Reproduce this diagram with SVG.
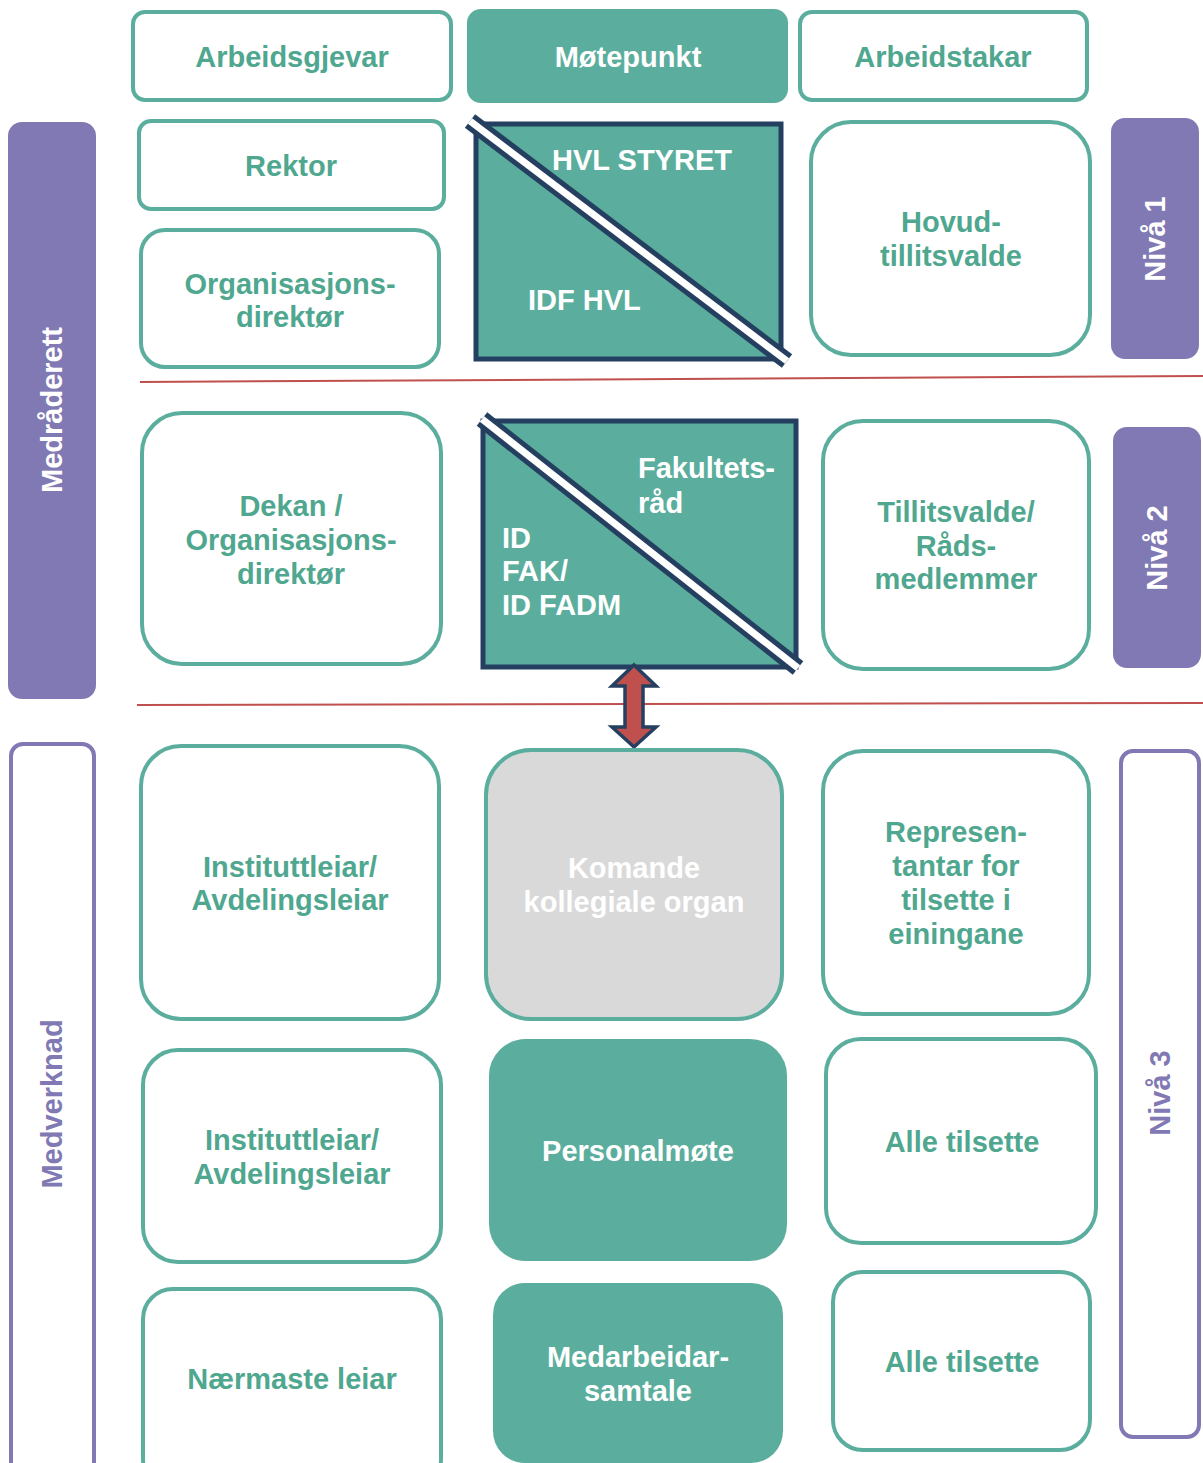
<svg xmlns="http://www.w3.org/2000/svg" width="1203" height="1463" viewBox="0 0 1203 1463">
<style>
text{font-family:"Liberation Sans",Arial,sans-serif;font-weight:bold;font-size:29px;text-anchor:middle}
.wb{fill:#fff;stroke:#5BAE9D;stroke-width:4}
.tb{fill:#5BAE9D;stroke:#5BAE9D;stroke-width:4}
.gb{fill:#D9D9D9;stroke:#5BAE9D;stroke-width:4}
.pb{fill:#8179B3}
.po{fill:#fff;stroke:#8179B3;stroke-width:4}
.tt{fill:#4FA78F}
.wt{fill:#fff}
.pt{fill:#8179B3}
.nb{fill:#5BAE9D;stroke:#243F60;stroke-width:5}
.red{stroke:#C0504D;stroke-width:2;fill:none}
.dn{stroke:#243F60;stroke-width:17}
.dw{stroke:#fff;stroke-width:7}
</style>
<g id="lines">
<line class="red" x1="140" y1="382" x2="1203" y2="376"/>
<line class="red" x1="137" y1="705" x2="1203" y2="703"/>
</g>
<g id="medraderett"><rect class="pb" x="8" y="122" width="88" height="577" rx="14"/><text class="wt" transform="translate(62,410) rotate(-90)">Medråderett</text></g>
<g id="medverknad"><rect class="po" x="11" y="744" width="83" height="740" rx="12"/><text class="pt" transform="translate(62,1104) rotate(-90)">Medverknad</text></g>
<g id="niva1"><rect class="pb" x="1111" y="118" width="88" height="241" rx="14"/><text class="wt" transform="translate(1165,239) rotate(-90)">Nivå 1</text></g>
<g id="niva2"><rect class="pb" x="1113" y="427" width="88" height="241" rx="14"/><text class="wt" transform="translate(1167,548) rotate(-90)">Nivå 2</text></g>
<g id="niva3"><rect class="po" x="1121" y="751" width="78" height="686" rx="12"/><text class="pt" transform="translate(1170,1093) rotate(-90)">Nivå 3</text></g>

<g id="arbeidsgjevar"><rect class="wb" x="133" y="12" width="318" height="88" rx="12"/><text class="tt" x="292" y="67">Arbeidsgjevar</text></g>
<g id="motepunkt"><rect class="tb" x="469" y="11" width="317" height="90" rx="12"/><text class="wt" x="628" y="67">Møtepunkt</text></g>
<g id="arbeidstakar"><rect class="wb" x="800" y="12" width="287" height="88" rx="12"/><text class="tt" x="943" y="67">Arbeidstakar</text></g>

<g id="rektor"><rect class="wb" x="139" y="121" width="305" height="88" rx="12"/><text class="tt" x="291" y="176">Rektor</text></g>
<g id="orgdir"><rect class="wb" x="141" y="230" width="298" height="137" rx="24"/><text class="tt" x="290" y="294">Organisasjons-</text><text class="tt" x="290" y="327">direktør</text></g>
<g id="hvl"><rect class="nb" x="476" y="124" width="305" height="235"/>
<line class="dn" x1="470" y1="121" x2="787" y2="361"/>
<line class="dw" x1="470" y1="121" x2="787" y2="361"/>
<text class="wt" style="text-anchor:start" x="552" y="170">HVL STYRET</text>
<text class="wt" style="text-anchor:start" x="528" y="310">IDF HVL</text></g>
<g id="hovud"><rect class="wb" x="811" y="122" width="279" height="233" rx="40"/><text class="tt" x="951" y="232">Hovud-</text><text class="tt" x="951" y="266">tillitsvalde</text></g>

<g id="dekan"><rect class="wb" x="142" y="413" width="299" height="251" rx="40"/><text class="tt" x="291" y="516">Dekan /</text><text class="tt" x="291" y="550">Organisasjons-</text><text class="tt" x="291" y="584">direktør</text></g>
<g id="fak"><rect class="nb" x="483" y="421" width="313" height="246"/>
<line class="dn" x1="482" y1="419" x2="798" y2="668"/>
<line class="dw" x1="482" y1="419" x2="798" y2="668"/>
<text class="wt" style="text-anchor:start" x="638" y="478">Fakultets-</text>
<text class="wt" style="text-anchor:start" x="638" y="513">råd</text>
<text class="wt" style="text-anchor:start" x="502" y="548">ID</text>
<text class="wt" style="text-anchor:start" x="502" y="581">FAK/</text>
<text class="wt" style="text-anchor:start" x="502" y="615">ID FADM</text></g>
<g id="tillits"><rect class="wb" x="823" y="421" width="266" height="248" rx="40"/><text class="tt" x="956" y="522">Tillitsvalde/</text><text class="tt" x="956" y="556">Råds-</text><text class="tt" x="956" y="589">medlemmer</text></g>

<g id="connectors"><polygon points="634,665 656,686 643,686 643,727 656,727 634,747 612,727 625,727 625,686 612,686" fill="#C0504D" stroke="#243F60" stroke-width="3.5" stroke-linejoin="miter"/></g>

<g id="inst1"><rect class="wb" x="141" y="746" width="298" height="273" rx="40"/><text class="tt" x="290" y="877">Instituttleiar/</text><text class="tt" x="290" y="910">Avdelingsleiar</text></g>
<g id="komande"><rect class="gb" x="486" y="750" width="296" height="269" rx="45"/><text class="wt" x="634" y="878">Komande</text><text class="wt" x="634" y="912">kollegiale organ</text></g>
<g id="repr"><rect class="wb" x="823" y="751" width="266" height="263" rx="40"/><text class="tt" x="956" y="842">Represen-</text><text class="tt" x="956" y="876">tantar for</text><text class="tt" x="956" y="910">tilsette i</text><text class="tt" x="956" y="944">einingane</text></g>

<g id="inst2"><rect class="wb" x="143" y="1050" width="298" height="212" rx="35"/><text class="tt" x="292" y="1150">Instituttleiar/</text><text class="tt" x="292" y="1184">Avdelingsleiar</text></g>
<g id="personal"><rect class="tb" x="491" y="1041" width="294" height="218" rx="35"/><text class="wt" x="638" y="1161">Personalmøte</text></g>
<g id="alle1"><rect class="wb" x="826" y="1039" width="270" height="204" rx="35"/><text class="tt" x="962" y="1152">Alle tilsette</text></g>

<g id="naermaste"><rect class="wb" x="143" y="1289" width="298" height="200" rx="30"/><text class="tt" x="292" y="1389">Nærmaste leiar</text></g>
<g id="medarb"><rect class="tb" x="495" y="1285" width="286" height="176" rx="30"/><text class="wt" x="638" y="1367">Medarbeidar-</text><text class="wt" x="638" y="1401">samtale</text></g>
<g id="alle2"><rect class="wb" x="833" y="1272" width="257" height="178" rx="30"/><text class="tt" x="962" y="1372">Alle tilsette</text></g>
</svg>
